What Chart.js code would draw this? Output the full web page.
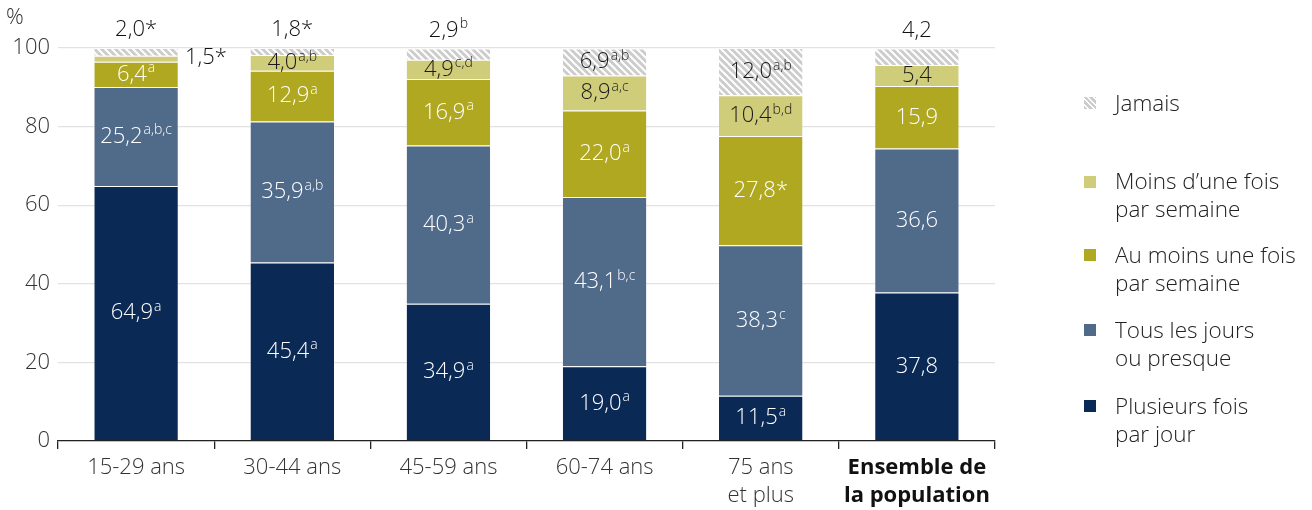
<!DOCTYPE html>
<html><head><meta charset="utf-8">
<script src="https://cdn.jsdelivr.net/npm/chart.js@4"></script>
<style>
html,body{margin:0;padding:0;background:#fff;}
#wrap{position:relative;width:1312px;height:510px;}
canvas{position:absolute;left:0;top:0;}
.leg{position:absolute;left:1115px;font-family:"Open Sans",sans-serif;font-weight:300;font-size:22.5px;color:#222;line-height:28px;white-space:nowrap;}
.sw{position:absolute;left:1084px;width:12px;height:12px;}
</style></head>
<body><div id="wrap"><canvas id="c" width="1312" height="510"></canvas></div>
<script>
const categories = [["15-29 ans"],["30-44 ans"],["45-59 ans"],["60-74 ans"],["75 ans","et plus"],["Ensemble de","la population"]];
const seriesNames = ["Plusieurs fois par jour","Tous les jours ou presque","Au moins une fois par semaine","Moins d’une fois par semaine","Jamais"];
const plusieursFois = [64.9, 45.4, 34.9, 19.0, 11.5, 37.8];
const tousLesJours  = [25.2, 35.9, 40.3, 43.1, 38.3, 36.6];
const auMoinsUne    = [6.4, 12.9, 16.9, 22.0, 27.8, 15.9];
const moinsDUne     = [1.5, 4.0, 4.9, 8.9, 10.4, 5.4];
const jamais        = [2.0, 1.8, 2.9, 6.9, 12.0, 4.2];
const notesPlusieurs = ["a","a","a","a","a",""];
const notesTous      = ["a,b,c","a,b","a","b,c","c",""];
const notesAuMoins   = ["a","a","a","a","*",""];
const notesMoins     = ["*","a,b","c,d","a,c","b,d",""];
const notesJamais    = ["*","*","b","a,b","a,b",""];
const yTicks = [0,20,40,60,80,100];

const FONT = '"Open Sans", sans-serif';

function hatch(){
  const s = 7;
  const p = document.createElement('canvas');
  p.width = s; p.height = s;
  const g = p.getContext('2d');
  g.fillStyle = '#cccccc'; g.fillRect(0,0,s,s);
  g.strokeStyle = '#ffffff'; g.lineWidth = 2;
  for (let k=-s;k<=s;k+=s){ g.beginPath(); g.moveTo(k-1,-1); g.lineTo(k+s+1,s+1); g.stroke(); }
  return document.getElementById('c').getContext('2d').createPattern(p,'repeat');
}
const hatchPat = hatch();

const colors = ['#0a2a55','#506a8a','#b0a820','#cfcc7a', hatchPat];
const values = [plusieursFois, tousLesJours, auMoinsUne, moinsDUne, jamais];
const notes = [notesPlusieurs, notesTous, notesAuMoins, notesMoins, notesJamais];
const textColors = ['#ffffff','#ffffff','#ffffff','#1a1a1a','#1a1a1a'];

function fmt(v){ return v.toFixed(1).replace('.', ','); }

const labelPlugin = {
  id:'labels',
  afterDatasetsDraw(chart){
    const ctx = chart.ctx;
    ctx.save();
    values.forEach((arr, di) => {
      const meta = chart.getDatasetMeta(di);
      arr.forEach((v, i) => {
        const bar = meta.data[i];
        const main = fmt(v);
        const note = notes[di][i];
        const isStar = note === '*';
        let cx = bar.x, cy = (bar.y + bar.base) / 2, color = textColors[di];
        if (di === 4 && v < 5) { cy = bar.y - 18; color = '#111'; }
        if (di === 3 && v < 3) { cx = bar.x + bar.width/2 + 28; cy = chart.scales.y.getPixelForValue(97.5); color = '#111'; }
        const mainFont = '300 22px ' + FONT;
        const supFont = '300 14px ' + FONT;
        ctx.font = mainFont;
        const wm = ctx.measureText(main).width;
        let ws = 0;
        if (isStar) { ws = ctx.measureText('*').width; }
        else if (note) { ctx.font = supFont; ws = ctx.measureText(note).width + 1; }
        const x0 = cx - (wm + ws) / 2;
        ctx.fillStyle = color;
        ctx.textBaseline = 'middle';
        ctx.textAlign = 'left';
        ctx.font = mainFont;
        ctx.fillText(main, x0, cy);
        if (isStar) { ctx.fillText('*', x0 + wm, cy); }
        else if (note) { ctx.font = supFont; ctx.fillText(note, x0 + wm + 1, cy - 6); }
      });
    });
    ctx.font = '300 22px ' + FONT;
    ctx.fillStyle = '#333';
    ctx.textAlign = 'left'; ctx.textBaseline = 'middle';
    ctx.fillText('%', 6, 18);
    ctx.restore();
  }
};

new Chart(document.getElementById('c'), {
  type: 'bar',
  data: {
    labels: categories,
    datasets: values.map((arr, di) => ({
      label: seriesNames[di],
      data: arr,
      backgroundColor: colors[di],
      borderColor: 'rgba(255,255,255,0.35)',
      borderWidth: {top:1,bottom:0,left:0,right:0},
      borderSkipped: false,
      categoryPercentage: 1,
      barPercentage: 0.535
    }))
  },
  options: {
    responsive: false,
    animation: false,
    devicePixelRatio: 1,
    layout: { padding: { left: 0, right: 317, top: 48, bottom: 0 } },
    plugins: { legend: { display: false }, tooltip: { enabled: false } },
    scales: {
      x: {
        stacked: true,
        grid: { offset: true, drawOnChartArea: false, drawTicks: true, tickLength: 8, tickColor: '#222', lineWidth: 1.3 },
        border: { color: '#222', width: 1.3 },
        ticks: {
          color: (c) => c.index === 5 ? '#111' : '#333',
          font: (c) => ({ family: FONT, size: 22, weight: c.index === 5 ? '700' : '300', lineHeight: 1.3 }),
          padding: 4,
          maxRotation: 0
        },
        afterFit: (s) => { s.height = 69; }
      },
      y: {
        stacked: true, min: 0, max: 100,
        afterBuildTicks: (s) => { s.ticks = yTicks.map(v => ({ value: v })); },
        grid: { color: '#e2e2e2', lineWidth: 1.3, drawTicks: false },
        border: { display: false },
        ticks: { color: '#333', font: { family: FONT, size: 22, weight: '300' }, padding: 8 },
        afterFit: (s) => { s.width = 58; }
      }
    }
  },
  plugins: [labelPlugin]
});
</script>
<div class="sw" style="top:97px;background:repeating-linear-gradient(45deg,#cccccc 0 2.5px,#fff 2.5px 4px);"></div>
<div class="leg" style="top:89px;">Jamais</div>
<div class="sw" style="top:176px;background:#cfcc7a;"></div>
<div class="leg" style="top:167px;">Moins d’une fois<br>par semaine</div>
<div class="sw" style="top:249px;background:#b0a820;"></div>
<div class="leg" style="top:241px;">Au moins une fois<br>par semaine</div>
<div class="sw" style="top:324px;background:#506a8a;"></div>
<div class="leg" style="top:316px;">Tous les jours<br>ou presque</div>
<div class="sw" style="top:400px;background:#0a2a55;"></div>
<div class="leg" style="top:392px;">Plusieurs fois<br>par jour</div>
</body></html>
